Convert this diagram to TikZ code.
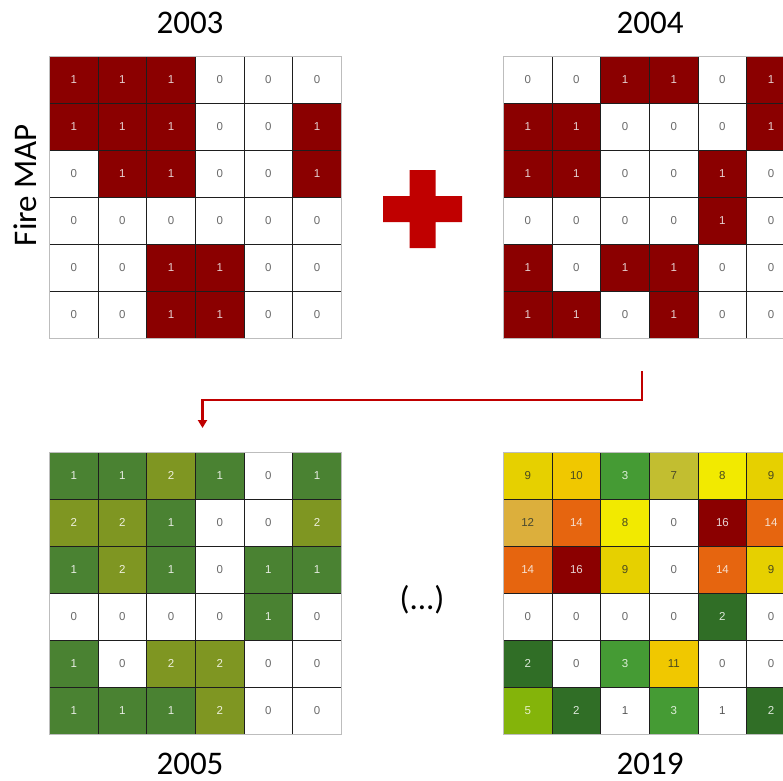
\documentclass[tikz,border=0pt]{standalone}
\usepackage{fontspec}
\setmainfont{Carlito}
\newfontfamily\cellfont{Liberation Sans}
\usetikzlibrary{arrows.meta}

% fire maps (0/1)
\definecolor{Ff0}{HTML}{FFFFFF}
\definecolor{Ff1}{HTML}{8B0000}
\definecolor{Ft0}{HTML}{6A6A6A}
\definecolor{Ft1}{HTML}{E6D2D2}
% cumulative count after two years
\definecolor{Gf0}{HTML}{FFFFFF}
\definecolor{Gf1}{HTML}{4A8232}
\definecolor{Gf2}{HTML}{7F9622}
\definecolor{Gt0}{HTML}{6A6A6A}
\definecolor{Gt1}{HTML}{E8EDE4}
\definecolor{Gt2}{HTML}{EEF0DC}
% cumulative count up to the last year
\definecolor{Yf0}{HTML}{FFFFFF}
\definecolor{Yf1}{HTML}{FFFFFF}
\definecolor{Yf2}{HTML}{306E26}
\definecolor{Yf3}{HTML}{459B34}
\definecolor{Yf5}{HTML}{84B40A}
\definecolor{Yf7}{HTML}{C2BE30}
\definecolor{Yf8}{HTML}{F2EA00}
\definecolor{Yf9}{HTML}{E6D000}
\definecolor{Yf10}{HTML}{F0C800}
\definecolor{Yf11}{HTML}{F0C800}
\definecolor{Yf12}{HTML}{DCAF3C}
\definecolor{Yf14}{HTML}{E6650F}
\definecolor{Yf16}{HTML}{8B0000}
\definecolor{Yt0}{HTML}{6A6A6A}
\definecolor{Yt1}{HTML}{555555}
\definecolor{Yt2}{HTML}{DDE8DA}
\definecolor{Yt3}{HTML}{DDEED8}
\definecolor{Yt5}{HTML}{E6F0C8}
\definecolor{Yt7}{HTML}{4A4A2A}
\definecolor{Yt8}{HTML}{4A4A20}
\definecolor{Yt9}{HTML}{4A4A20}
\definecolor{Yt10}{HTML}{4A4A20}
\definecolor{Yt11}{HTML}{4A4A20}
\definecolor{Yt12}{HTML}{4A4A30}
\definecolor{Yt14}{HTML}{F6E0D0}
\definecolor{Yt16}{HTML}{E6D2D2}

\definecolor{accent}{HTML}{C00000}
\definecolor{gridline}{HTML}{1E1E1E}
\definecolor{frameline}{HTML}{BDBDBD}

\def\cw{48.67}
\def\ch{47}

\tikzset{
  cell/.style={draw=gridline, line width=0.8pt, minimum width=\cw pt,
    minimum height=\ch pt, inner sep=0pt, anchor=north west,
    font=\cellfont\fontsize{11.5}{12}\selectfont},
  frame/.style={draw=frameline, line width=1pt},
  title/.style={font=\fontsize{33}{36}\selectfont, inner sep=0pt},
  connector/.style={draw=accent, line width=2.2pt,
    -{Triangle[length=8pt,width=9pt]}},
}

% #1 name, #2 left, #3 top, #4 palette, #5 rows
\newcommand{\cellgrid}[5]{%
  \foreach \rowvals [count=\r from 0] in {#5} {
    \foreach \v [count=\c from 0] in \rowvals {
      \node[cell, fill=#4f\v, text=#4t\v] (#1-\r-\c)
        at ({#2+\c*\cw},{#3+\r*\ch}) {\v};
    }
  }
  \draw[frame] (#1-0-0.north west) rectangle (#1-5-5.south east);
}

\begin{document}
\begin{tikzpicture}[x=1pt,y=-1pt]
\path[use as bounding box, fill=white] (0,0) rectangle (783,780);
\clip (0,0) rectangle (783,780);

% titles
\node[title] (t2003) at (190,23) {2003};
\node[title] (t2004) at (650,23) {2004};
\node[title] (t2005) at (190,764) {2005};
\node[title] (t2019) at (650,764) {2019};
\node[title, rotate=90] (firemap) at (25,185) {Fire MAP};
\node[title] (dots) at (422,600) {(...)};

% yearly fire maps
\cellgrid{gA}{49}{56}{F}{
  {1,1,1,0,0,0},{1,1,1,0,0,1},{0,1,1,0,0,1},
  {0,0,0,0,0,0},{0,0,1,1,0,0},{0,0,1,1,0,0}}
\cellgrid{gB}{503}{56}{F}{
  {0,0,1,1,0,1},{1,1,0,0,0,1},{1,1,0,0,1,0},
  {0,0,0,0,1,0},{1,0,1,1,0,0},{1,1,0,1,0,0}}

% accumulated maps
\cellgrid{gC}{49}{452}{G}{
  {1,1,2,1,0,1},{2,2,1,0,0,2},{1,2,1,0,1,1},
  {0,0,0,0,1,0},{1,0,2,2,0,0},{1,1,1,2,0,0}}
\cellgrid{gD}{503}{452}{Y}{
  {9,10,3,7,8,9},{12,14,8,0,16,14},{14,16,9,0,14,9},
  {0,0,0,0,2,0},{2,0,3,11,0,0},{5,2,1,3,1,2}}

% plus sign
\coordinate (plusc) at (422.5,209);
\fill[accent] (plusc) ++(-13,-39) -- ++(26,0) -- ++(0,26) -- ++(26.5,0)
  -- ++(0,26) -- ++(-26.5,0) -- ++(0,26) -- ++(-26,0) -- ++(0,-26)
  -- ++(-26.5,0) -- ++(0,-26) -- ++(26.5,0) -- cycle;

% sum leads to the next year
\coordinate (arrS) at (641.7,371);
\coordinate (arrE) at (202.5,428);
\draw[connector] (arrS) -- (641.7,400) -- (202.5,400) -- (arrE);
\end{tikzpicture}
\end{document}
